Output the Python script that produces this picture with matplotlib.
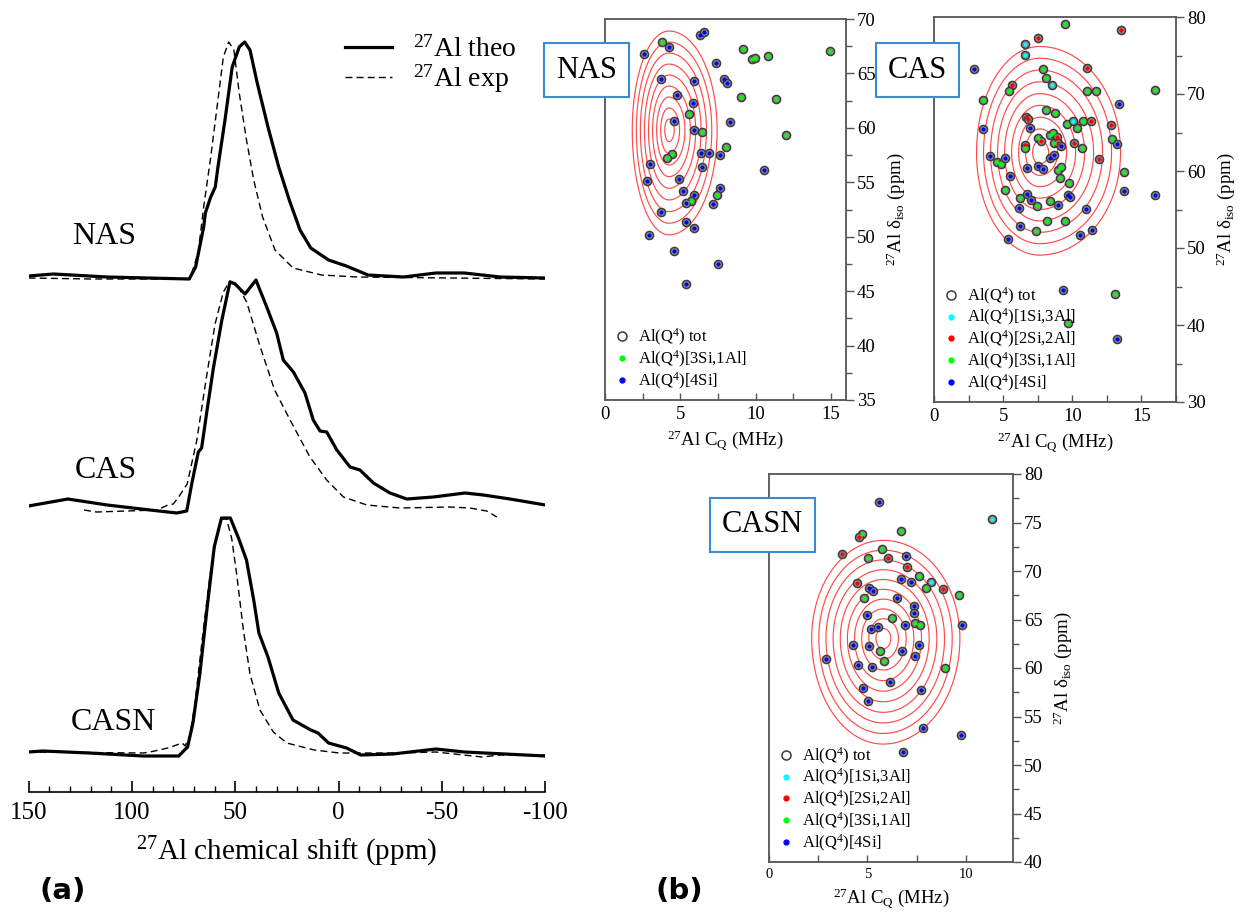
import numpy as np
import matplotlib
matplotlib.use("Agg")
import matplotlib.pyplot as plt
from matplotlib.lines import Line2D
from matplotlib.ticker import MultipleLocator

plt.rcParams['font.family'] = ['Liberation Serif', 'DejaVu Serif']
plt.rcParams['mathtext.fontset'] = 'custom'
plt.rcParams['mathtext.rm'] = 'Liberation Serif'
plt.rcParams['mathtext.it'] = 'Liberation Serif:italic'
plt.rcParams['mathtext.bf'] = 'Liberation Serif:bold'
plt.rcParams['axes.unicode_minus'] = False

# ---------------- (a) 27Al MAS NMR spectra (intensity, arb. units) ----------------
nas_theo_ppm = [150, 137.9, 112.1, 72.3, 69.2, 65.3, 64.5, 61.9, 59.7, 58.4, 55.0, 51.5, 48.1,
                45.5, 42.9, 39.4, 34.2, 29.0, 23.9, 18.7, 13.5, 4.9, -3.7, -14.2, -31.4, -47.0,
                -60.8, -78.1, -100]
nas_theo_int = [0.02, 0.04, 0.01, -0.01, 0.11, 0.51, 0.65, 0.81, 0.91, 1.11, 1.58, 2.11, 2.31,
                2.36, 2.28, 1.95, 1.51, 1.11, 0.78, 0.48, 0.30, 0.18, 0.12, 0.03, 0.01, 0.05,
                0.05, 0.01, 0.00]
nas_exp_ppm = [150, 120, 72.0, 68.0, 65.3, 61.9, 58.4, 55.8, 53.2, 50.7, 48.1, 44.6, 41.1, 36.8,
               30.8, 22.1, 8.3, -8.9, -100]
nas_exp_int = [0.0, -0.01, -0.01, 0.25, 0.71, 1.21, 1.78, 2.21, 2.36, 2.28, 1.85, 1.38, 0.98,
               0.61, 0.28, 0.10, 0.03, 0.01, -0.01]

cas_theo_ppm = [150, 131.0, 112.0, 91.3, 78.3, 73.5, 71.1, 67.9, 66.3, 63.8, 60.6, 56.6, 52.6,
                50.1, 45.3, 40.0, 38.1, 34.8, 30.0, 26.8, 21.9, 16.3, 12.3, 9.0, 5.8, 0.9, -5.5,
                -10.3, -16.8, -24.8, -32.9, -45.8, -61.1, -70.0, -82.9, -100]
cas_theo_int = [0.02, 0.09, 0.03, -0.02, -0.05, -0.03, 0.24, 0.56, 0.60, 0.96, 1.40, 1.87, 2.26,
                2.24, 2.14, 2.28, 2.18, 2.01, 1.75, 1.48, 1.36, 1.15, 0.88, 0.77, 0.76, 0.58, 0.41,
                0.38, 0.25, 0.15, 0.09, 0.11, 0.15, 0.13, 0.09, 0.03]
cas_exp_ppm = [123.2, 117.2, 87.9, 82.6, 80.0, 77.4, 73.3, 68.7, 63.8, 59.8, 55.8, 52.6, 49.3,
               44.5, 38.1, 31.0, 23.0, 13.9, 5.8, -2.3, -13.6, -29.7, -53.9, -63.5, -71.6, -76.5]
cas_exp_int = [-0.02, -0.04, -0.02, 0.03, 0.04, 0.11, 0.24, 0.67, 1.33, 1.84, 2.16, 2.27, 2.24,
               2.06, 1.62, 1.18, 0.86, 0.51, 0.28, 0.11, 0.03, 0.00, 0.01, 0.00, -0.03, -0.09]

casn_theo_ppm = [150, 143.1, 120.6, 94.7, 77.4, 73.1, 70.5, 67.1, 63.6, 60.2, 56.7, 52.4, 48.1,
                 44.6, 41.1, 38.6, 34.2, 29.0, 22.1, 13.5, 10.0, 4.9, -3.8, -10.7, -26.2, -47.0,
                 -60.8, -100]
casn_theo_int = [0.01, 0.02, 0.00, -0.03, -0.03, 0.06, 0.30, 0.80, 1.46, 2.06, 2.35, 2.35, 2.13,
                 1.93, 1.53, 1.20, 0.96, 0.60, 0.33, 0.23, 0.20, 0.10, 0.05, -0.02, -0.01, 0.04,
                 0.01, -0.03]
casn_exp_ppm = [150, 94.7, 91.3, 82.6, 75.7, 74.3, 71.9, 69.5, 65.5, 62.2, 59.0, 56.6, 54.2, 51.7,
                49.3, 46.1, 42.9, 38.1, 31.6, 25.1, 11.8, -0.3, -30.0, -47.0, -69.4, -78.0, -100]
casn_exp_int = [0.01, 0.00, 0.01, 0.05, 0.10, 0.07, 0.18, 0.50, 1.23, 1.78, 2.18, 2.34, 2.34, 2.14,
                1.78, 1.23, 0.79, 0.43, 0.21, 0.10, 0.03, 0.00, 0.00, 0.01, -0.04, -0.02, -0.02]

glass_names = ['NAS', 'CAS', 'CASN']
stack_offset = [5.14, 2.84, 0.39]

# ---------------- (b) calculated 27Al NMR parameters per Al(Q4) site ----------------
# site code: 1 = [1Si,3Al], 2 = [2Si,2Al], 3 = [3Si,1Al], 4 = [4Si]
nas_cq = [6.29, 6.56, 3.80, 4.24, 2.60, 9.16, 9.78, 9.93, 10.82, 14.97, 7.35, 3.69, 5.89, 7.90,
          8.12, 4.77, 9.01, 11.32, 5.83, 5.56, 4.57, 8.30, 5.92, 6.47, 11.99, 8.01, 4.42, 4.13,
          6.40, 6.91, 7.62, 3.02, 6.47, 10.55, 2.76, 4.92, 7.62, 5.19, 7.46, 5.92, 5.74, 5.36,
          7.17, 3.75, 5.36, 5.92, 2.94, 4.61, 7.51, 5.36]
nas_diso = [68.53, 68.78, 67.86, 67.46, 66.79, 67.21, 66.30, 66.39, 66.57, 67.09, 65.96, 64.49,
            64.34, 64.46, 64.09, 62.99, 62.84, 62.68, 62.25, 61.27, 60.63, 60.51, 59.80, 59.59,
            59.31, 58.24, 57.57, 57.20, 57.69, 57.66, 57.48, 56.71, 56.41, 56.13, 55.12, 55.33,
            54.45, 54.23, 53.83, 53.80, 53.31, 53.13, 53.04, 52.30, 51.38, 50.77, 50.16, 48.69,
            47.46, 45.66]
nas_site = [4, 4, 3, 4, 4, 3, 3, 3, 3, 3, 4, 4, 4, 4, 4, 4, 3, 3, 4, 3, 4, 4, 4, 3, 3,
            3, 3, 3, 4, 4, 4, 4, 4, 4, 4, 4, 4, 4, 3, 4, 3, 4, 4, 4, 4, 4, 4, 4, 4, 4]

cas_cq = [9.45, 13.49, 7.52, 6.56, 6.56, 2.88, 7.88, 11.08, 8.13, 5.67, 5.43, 8.53, 11.08, 11.73,
          3.56, 13.41, 15.99, 8.13, 8.73, 6.63, 6.83, 6.92, 3.51, 9.62, 10.05, 10.77, 11.37,
          10.34, 12.81, 7.52, 7.72, 8.37, 8.61, 8.92, 8.65, 8.97, 9.21, 6.56, 6.56, 10.10, 10.72,
          12.88, 13.22, 4.04, 4.52, 4.83, 5.17, 8.37, 8.68, 11.92, 6.73, 7.52, 7.88, 8.97, 9.21,
          9.13, 5.53, 9.76, 13.73, 13.73, 16.01, 5.12, 6.75, 7.04, 6.20, 7.45, 8.41, 9.69, 9.86,
          8.97, 6.15, 11.01, 8.17, 9.50, 6.20, 7.36, 11.42, 10.58, 5.36, 9.33, 13.10, 9.69, 13.24]
cas_diso = [79.09, 78.35, 77.32, 76.49, 75.06, 73.25, 73.25, 73.33, 72.12, 71.17, 70.35, 71.17,
            70.39, 70.39, 69.22, 68.66, 70.52, 67.92, 67.49, 66.97, 66.71, 65.63, 65.45, 66.06,
            66.49, 66.49, 66.49, 65.54, 65.97, 64.33, 63.90, 64.68, 64.89, 64.46, 63.59, 63.68,
            63.29, 63.38, 62.94, 63.68, 63.03, 64.16, 63.51, 61.95, 61.13, 60.91, 61.65, 61.65,
            62.08, 61.52, 60.35, 60.69, 60.26, 60.13, 60.56, 59.05, 59.31, 58.40, 59.83, 57.40,
            56.93, 57.53, 56.97, 56.23, 56.54, 55.45, 56.10, 56.88, 56.67, 55.58, 55.15, 55.06,
            53.51, 53.51, 52.90, 52.25, 52.34, 51.65, 51.17, 44.55, 44.07, 40.30, 38.20]
cas_site = [3, 2, 2, 1, 1, 4, 3, 2, 3, 2, 3, 1, 3, 3, 3, 4, 3, 3, 3, 2, 2, 4, 4, 3, 1, 3, 2,
            3, 2, 3, 2, 3, 3, 2, 3, 2, 4, 2, 3, 2, 3, 3, 4, 4, 3, 3, 4, 4, 4, 2, 4, 4, 4, 3, 3,
            3, 4, 3, 3, 4, 4, 3, 4, 4, 3, 3, 3, 4, 4, 4, 4, 4, 3, 3, 4, 3, 4, 4, 4, 4, 3, 3, 4]

casn_cq = [5.60, 11.35, 6.73, 4.75, 4.59, 3.69, 5.75, 5.04, 6.06, 6.94, 6.99, 7.63, 6.70, 7.24,
           8.21, 7.97, 8.85, 9.64, 4.48, 5.09, 5.30, 4.82, 6.48, 7.39, 7.36, 4.99, 6.23, 6.92,
           7.41, 7.66, 9.83, 5.18, 5.52, 4.26, 5.09, 5.62, 6.77, 7.63, 7.41, 5.85, 2.88, 4.50,
           5.25, 8.93, 6.16, 4.79, 7.72, 5.04, 7.85, 9.75, 6.79]
casn_diso = [77.08, 75.36, 74.16, 73.78, 73.47, 71.72, 72.30, 71.37, 71.34, 71.55, 70.45, 69.48,
             69.18, 68.83, 68.83, 68.21, 68.14, 67.56, 68.80, 68.28, 67.97, 67.18, 67.18, 66.39,
             65.64, 65.43, 65.19, 64.40, 64.64, 64.43, 64.43, 63.99, 64.26, 62.41, 62.27, 61.79,
             61.75, 62.41, 61.27, 60.76, 60.93, 60.34, 60.07, 60.03, 58.56, 57.97, 57.77, 56.60,
             53.85, 53.09, 51.31]
casn_site = [4, 1, 3, 3, 2, 2, 3, 3, 2, 4, 2, 3, 4, 4, 1, 3, 2, 3, 2, 4, 4, 3, 4, 4, 4, 4,
             3, 4, 3, 3, 4, 4, 4, 4, 4, 3, 4, 4, 4, 3, 4, 4, 4, 3, 4, 4, 4, 4, 4, 4, 4]

# fitted distribution: centre (CQ, diso), ring spacing left/right in CQ, up/down in diso
dist_centre = {'NAS': (4.24, 59.8), 'CAS': (7.64, 62.4), 'CASN': (5.80, 63.06)}
dist_step = {'NAS': (0.27, 0.356, 1.01, 1.07), 'CAS': (0.507, 0.65, 1.53, 1.48),
             'CASN': (0.363, 0.39, 1.01, 1.09)}
dist_rings = {'NAS': 9, 'CAS': 9, 'CASN': 10}

site_colour = {1: '#00ffff', 2: '#ff0000', 3: '#00ff00', 4: '#0000ff'}
site_label = {1: '[1Si,3Al]', 2: '[2Si,2Al]', 3: '[3Si,1Al]', 4: '[4Si]'}

W, H = 1239, 923
fig = plt.figure(figsize=(W / 100, H / 100), dpi=100)


def px_axes(x0, y0, x1, y1):
    return fig.add_axes([x0 / W, 1 - y1 / H, (x1 - x0) / W, (y1 - y0) / H])


# ---------------- panel (a) ----------------
ax = px_axes(28.6, 10, 545.4, 792)
spectra = [(nas_theo_ppm, nas_theo_int, nas_exp_ppm, nas_exp_int),
           (cas_theo_ppm, cas_theo_int, cas_exp_ppm, cas_exp_int),
           (casn_theo_ppm, casn_theo_int, casn_exp_ppm, casn_exp_int)]
for (tp, ti, ep, ei), off in zip(spectra, stack_offset):
    ax.plot(ep, np.array(ei) + off, color='black', lw=1.0, ls=(0, (5, 3)))
    ax.plot(tp, np.array(ti) + off, color='black', lw=2.3, solid_joinstyle='round')

label_pos = [(104, 237), (106, 470), (113, 722)]
for name, (lx, ly) in zip(glass_names, label_pos):
    fig.text(lx / W, 1 - ly / H, name, fontsize=23, ha='center', va='center')

ax.set_xlim(150, -100)
ax.set_ylim(0, 7.82)
for s in ['top', 'left', 'right']:
    ax.spines[s].set_visible(False)
ax.spines['bottom'].set_linewidth(1.2)
ax.set_yticks([])
ax.xaxis.set_major_locator(MultipleLocator(50))
ax.xaxis.set_minor_locator(MultipleLocator(10))
ax.tick_params(axis='x', which='major', direction='in', length=8, width=1.2,
               labelsize=18, pad=7)
ax.tick_params(axis='x', which='minor', direction='in', length=4, width=1.0)
ax.set_xlabel(r'$^{27}$Al chemical shift (ppm)', fontsize=21, labelpad=8)

ax.legend(handles=[Line2D([], [], color='black', lw=2.3),
                   Line2D([], [], color='black', lw=1.0, ls=(0, (5, 3)))],
          labels=[r'$^{27}$Al theo', r'$^{27}$Al exp'],
          loc='upper left', bbox_to_anchor=(345 / W, 1 - 36 / H),
          bbox_transform=fig.transFigure, frameon=False, fontsize=20,
          handlelength=1.7, handletextpad=0.75, borderpad=0, labelspacing=0.0,
          borderaxespad=0)

fig.text(39 / W, 1 - 891 / H, '(a)', fontsize=21, fontweight='bold',
         family='DejaVu Sans', va='center', ha='left')
fig.text(655 / W, 1 - 891 / H, '(b)', fontsize=21, fontweight='bold',
         family='DejaVu Sans', va='center', ha='left')

# ---------------- panel (b) ----------------
panels = [
    ('NAS', nas_cq, nas_diso, nas_site, (605, 19, 846, 400), (0, 16), (35, 70), 5, 2.5, 13.5),
    ('CAS', cas_cq, cas_diso, cas_site, (934, 17, 1176, 402), (0, 17.5), (30, 80), 10, 5, 13.5),
    ('CASN', casn_cq, casn_diso, casn_site, (769, 474, 1013, 862), (0, 12.4), (40, 80), 5, 2.5, 10.5),
]
box_pos = {'NAS': (556, 70), 'CAS': (888, 70), 'CASN': (722, 525)}
frame_col = '#555555'

for name, cq, diso, site, rect, xl, yl, ymaj, ymin, xtick_fs in panels:
    axb = px_axes(*rect)
    cq = np.asarray(cq)
    diso = np.asarray(diso)
    site = np.asarray(site)

    # contour rings of the fitted (CQ, diso) distribution
    c0, d0 = dist_centre[name]
    sl, sr, su, sd = dist_step[name]
    gx, gy = np.meshgrid(np.linspace(xl[0], xl[1], 500), np.linspace(yl[0], yl[1], 500))
    dx = gx - c0
    dy = gy - d0
    rr = np.sqrt((dx / np.where(dx < 0, sl, sr)) ** 2 + (dy / np.where(dy > 0, su, sd)) ** 2)
    axb.contour(gx, gy, rr, levels=np.arange(1, dist_rings[name] + 1), colors='#ff4a4a',
                linewidths=0.85)

    axb.scatter(cq, diso, s=34, facecolors='#8c8c8c', edgecolors='#3c3c3c', linewidths=1.1,
                zorder=3)
    for code in sorted(set(site)):
        m = site == code
        axb.scatter(cq[m], diso[m], s=9, color=site_colour[code], linewidths=0, zorder=4)

    present = sorted(set(site))
    handles = [Line2D([], [], ls='none', marker='o', mfc='none', mec='#3c3c3c', ms=6.5, mew=1.1)]
    labels = [r'Al(Q$^4$) tot']
    for code in present:
        handles.append(Line2D([], [], ls='none', marker='o', color=site_colour[code], ms=3.5))
        labels.append(r'Al(Q$^4$)' + site_label[code])
    axb.legend(handles=handles, labels=labels, loc='lower left', frameon=False, fontsize=12,
               handlelength=1.0, handletextpad=0.5, labelspacing=0.04, borderaxespad=0.3,
               borderpad=0.2)

    axb.set_xlim(*xl)
    axb.set_ylim(*yl)
    axb.yaxis.tick_right()
    axb.yaxis.set_label_position('right')
    axb.xaxis.set_major_locator(MultipleLocator(5))
    axb.xaxis.set_minor_locator(MultipleLocator(2.5))
    axb.yaxis.set_major_locator(MultipleLocator(ymaj))
    axb.yaxis.set_minor_locator(MultipleLocator(ymin))
    axb.tick_params(axis='x', which='both', direction='in', length=5, width=1, color=frame_col,
                    labelsize=xtick_fs, pad=4)
    axb.tick_params(axis='y', which='major', direction='out', length=6, width=1,
                    color=frame_col, labelsize=13.5, pad=2)
    axb.tick_params(axis='y', which='minor', direction='out', length=4, width=1, color=frame_col)
    for s in axb.spines.values():
        s.set_color(frame_col)
        s.set_linewidth(1.3)
    axb.set_xlabel(r'$^{27}$Al C$_{\rm Q}$ (MHz)', fontsize=13.5, labelpad=4)
    axb.set_ylabel(r'$^{27}$Al $\mathrm{\delta}_{\rm iso}$ (ppm)', fontsize=13.5, labelpad=6,
                   rotation=90)

    bx, by = box_pos[name]
    fig.text(bx / W, 1 - by / H, name, fontsize=22, ha='left', va='center', zorder=10,
             bbox=dict(boxstyle='square,pad=0.4', fc='white', ec='#3b8bd0', lw=1.5))

fig.savefig('out.png', dpi=100)
